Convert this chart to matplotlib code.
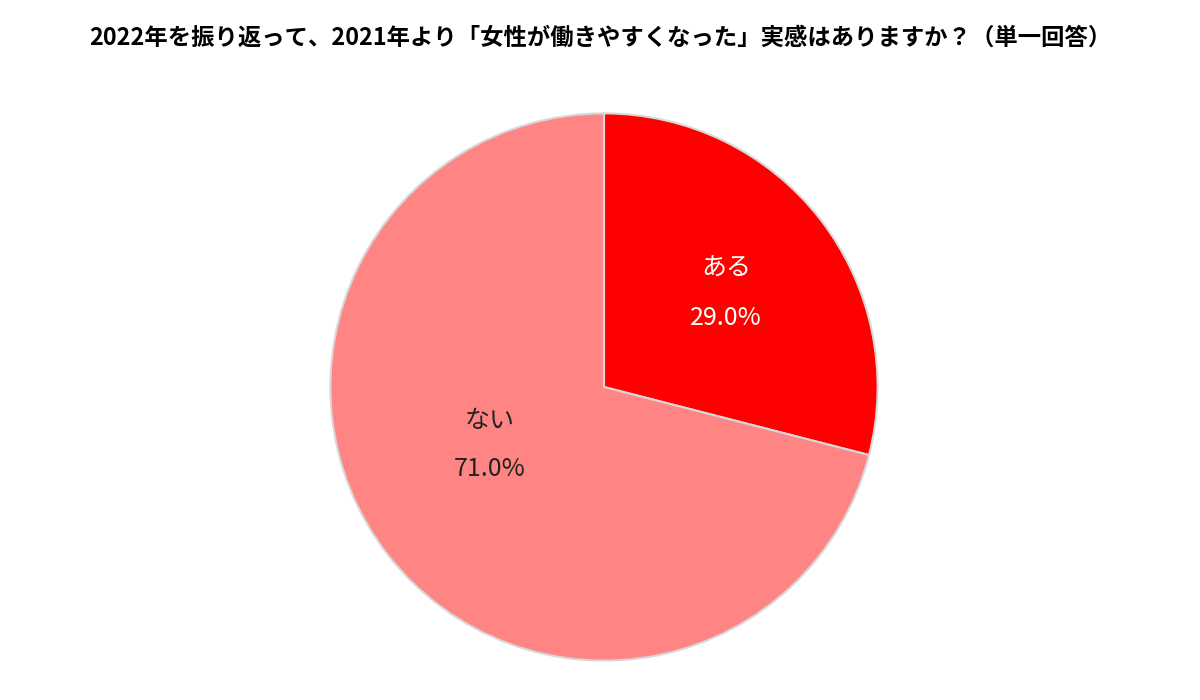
import matplotlib
matplotlib.use("Agg")
from matplotlib import pyplot as plt

plt.rcParams['font.family'] = ['Noto Sans CJK JP', 'DejaVu Sans']

title = "2022年を振り返って、2021年より「女性が働きやすくなった」実感はありますか？（単一回答）"
labels = ["ある", "ない"]
values = [29.0, 71.0]
colors = ["#ff0000", "#ff8585"]
text_colors = ["white", "#222222"]

fig = plt.figure(figsize=(12, 7), dpi=100)
fig.text(0.5, 1 - 38 / 700, title, ha="center", va="center",
         fontsize=16.8, fontweight="bold", color="black")

ax = fig.add_axes([328 / 1200, 38 / 700, 552 / 1200, 550 / 700])
wedges, _ = ax.pie(values, colors=colors, startangle=90, counterclock=False,
                   radius=1.0,
                   wedgeprops=dict(edgecolor="#d8d8d8", linewidth=1.5))
ax.set_xlim(-1.005, 1.005)
ax.set_ylim(-1.005, 1.005)
ax.set_aspect("equal")
ax.axis("off")

# label positions (in pie radius units)
name_pos = [(0.447, 0.433), (-0.418, -0.124)]
pct_pos = [(0.447, 0.251), (-0.418, -0.298)]
for i, lab in enumerate(labels):
    ax.text(*name_pos[i], lab, ha="center", va="center",
            fontsize=18, color=text_colors[i])
    ax.text(*pct_pos[i], f"{values[i]:.1f}%", ha="center", va="center",
            fontsize=18, color=text_colors[i])

fig.savefig("out.png", dpi=100)
